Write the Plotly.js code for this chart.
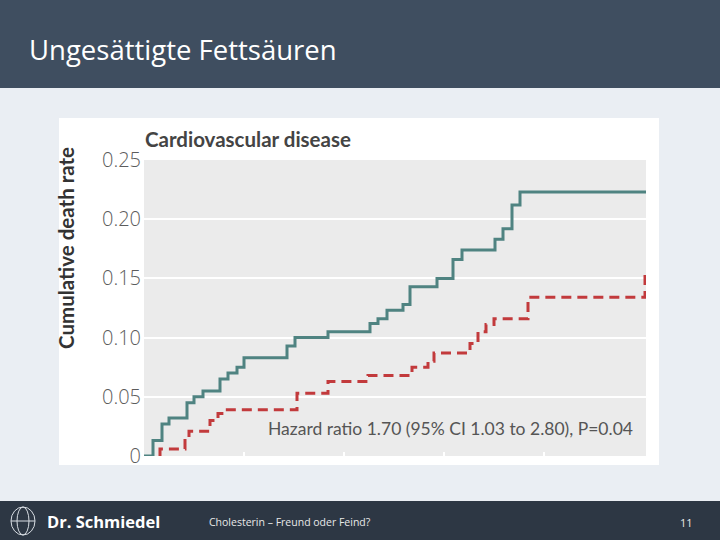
<!DOCTYPE html>
<html>
<head>
<meta charset="utf-8">
<script src="https://cdn.plot.ly/plotly-3.0.1.min.js"></script>
<style>html,body{margin:0;padding:0;background:#eaeef3;}#chart{width:720px;height:540px;}</style>
</head>
<body>
<div id="chart"></div>
<script>
// Cumulative death rate, years of follow-up (x) vs rate (y)
const controlYears = [0, 0.09, 0.18, 0.25, 0.43, 0.50, 0.59, 0.76, 0.84, 0.93, 1.00, 1.43, 1.51, 1.84, 2.26, 2.34, 2.43, 2.59, 2.66, 2.93, 3.09, 3.18, 3.51, 3.59, 3.68, 3.76, 5.02];
const controlRate  = [0, 0.013, 0.027, 0.032, 0.045, 0.050, 0.055, 0.065, 0.070, 0.075, 0.083, 0.093, 0.100, 0.105, 0.112, 0.116, 0.123, 0.128, 0.143, 0.150, 0.166, 0.174, 0.183, 0.192, 0.212, 0.223, 0.223];
const interventionYears = [0.16, 0.16, 0.41, 0.45, 0.66, 0.74, 0.81, 1.53, 1.84, 2.24, 2.68, 2.84, 2.90, 3.26, 3.34, 3.42, 3.50, 3.84, 5.01, 5.01];
const interventionRate  = [0, 0.006, 0.016, 0.021, 0.030, 0.036, 0.039, 0.053, 0.063, 0.068, 0.075, 0.080, 0.087, 0.095, 0.105, 0.111, 0.116, 0.134, 0.134, 0.154];
const yTickVals = [0, 0.05, 0.10, 0.15, 0.20, 0.25];
const yTickText = ['0', '0.05', '0.10', '0.15', '0.20', '0.25'];
const xTickVals = [1, 2, 3, 4];

const slideTitle = 'Ungesättigte Fettsäuren';
const chartTitle = 'Cardiovascular disease';
const yTitle = 'Cumulative death rate';
const hazardText = 'Hazard ratio 1.70 (95% CI 1.03 to 2.80), P=0.04';
const footerBrand = 'Dr. Schmiedel';
const footerTopic = 'Cholesterin – Freund oder Feind?';
const pageNumber = '11';

// pixel -> paper helpers (plot area: x 144..646, y 160..456)
const L = 144, R = 646, T = 160, B = 456;
const px = v => (v - L) / (R - L);
const py = v => (B - v) / (B - T);

const traces = [
  {x: controlYears, y: controlRate, type: 'scatter', mode: 'lines',
   line: {shape: 'hv', color: '#4f8381', width: 3}, cliponaxis: false, hoverinfo: 'skip'},
  {x: interventionYears, y: interventionRate, type: 'scatter', mode: 'lines',
   line: {shape: 'hv', color: '#c23a3c', width: 3, dash: '10px,6px'}, cliponaxis: false, hoverinfo: 'skip'}
];

const layout = {
  width: 720, height: 540,
  margin: {l: L, r: 720 - R, t: T, b: 540 - B, pad: 0},
  paper_bgcolor: '#eaeef3',
  plot_bgcolor: 'rgba(0,0,0,0)',
  showlegend: false,
  xaxis: {range: [0, 5.02], tickvals: xTickVals, showticklabels: false, ticks: 'inside',
          ticklen: 4, tickwidth: 2, tickcolor: '#ffffff', showgrid: false, zeroline: false,
          showline: false, fixedrange: true},
  yaxis: {range: [0, 0.25], tickvals: yTickVals, ticktext: yTickText, showgrid: true,
          gridcolor: '#ffffff', gridwidth: 2, zeroline: false, showline: false, ticks: '',
          ticklabelstandoff: 2,
          tickfont: {family: 'Open Sans', size: 20, color: '#5c5c5c', weight: 300}, fixedrange: true},
  shapes: [
    {type: 'rect', xref: 'paper', yref: 'paper', layer: 'below', x0: px(0), x1: px(720), y0: py(88), y1: py(0),
     fillcolor: '#3f4e60', line: {width: 0}},
    {type: 'rect', xref: 'paper', yref: 'paper', layer: 'below', x0: px(0), x1: px(720), y0: py(540), y1: py(501),
     fillcolor: '#2d3744', line: {width: 0}},
    {type: 'rect', xref: 'paper', yref: 'paper', layer: 'below', x0: px(59), x1: px(659), y0: py(465), y1: py(118),
     fillcolor: '#ffffff', line: {width: 0}},
    {type: 'rect', xref: 'paper', yref: 'paper', layer: 'below', x0: 0, x1: 1, y0: 0, y1: 1,
     fillcolor: '#ebebeb', line: {width: 0}},
    // logo globe
    {type: 'circle', xref: 'paper', yref: 'paper', layer: 'above', x0: px(11), x1: px(35), y0: py(535), y1: py(507),
     line: {color: '#d8dde3', width: 1}},
    {type: 'circle', xref: 'paper', yref: 'paper', layer: 'above', x0: px(17), x1: px(29), y0: py(535), y1: py(507),
     line: {color: '#d8dde3', width: 1}},
    {type: 'line', xref: 'paper', yref: 'paper', layer: 'above', x0: px(11), x1: px(35), y0: py(521), y1: py(521),
     line: {color: '#d8dde3', width: 1}}
  ],
  annotations: [
    {text: slideTitle, xref: 'paper', yref: 'paper', x: px(27), y: py(50), xanchor: 'left', yanchor: 'middle',
     showarrow: false, font: {family: 'Open Sans', size: 27.5, color: '#ffffff'}},
    {text: '<b>' + chartTitle + '</b>', xref: 'paper', yref: 'paper', x: px(143), y: py(139), xanchor: 'left', yanchor: 'middle',
     showarrow: false, font: {family: 'Lato', size: 20.5, color: '#444444'}},
    {text: '<b>' + yTitle + '</b>', xref: 'paper', yref: 'paper', x: px(66), y: py(248), xanchor: 'center', yanchor: 'middle',
     textangle: -90, showarrow: false, font: {family: 'Lato', size: 20.5, color: '#333333'}},
    {text: hazardText, xref: 'paper', yref: 'paper', x: px(450), y: py(428), xanchor: 'center', yanchor: 'middle',
     showarrow: false, font: {family: 'Lato', size: 17.5, color: '#555555'}},
    {text: '<b>' + footerBrand + '</b>', xref: 'paper', yref: 'paper', x: px(45), y: py(521), xanchor: 'left', yanchor: 'middle',
     showarrow: false, font: {family: 'Open Sans', size: 16.5, color: '#ffffff'}},
    {text: footerTopic, xref: 'paper', yref: 'paper', x: px(207), y: py(522), xanchor: 'left', yanchor: 'middle',
     showarrow: false, font: {family: 'Open Sans', size: 10.5, color: '#e8e8e8'}},
    {text: pageNumber, xref: 'paper', yref: 'paper', x: px(686), y: py(522), xanchor: 'center', yanchor: 'middle',
     showarrow: false, font: {family: 'Open Sans', size: 11, color: '#e8e8e8'}}
  ]
};

Plotly.newPlot('chart', traces, layout, {staticPlot: true, displayModeBar: false});
</script>
</body>
</html>
